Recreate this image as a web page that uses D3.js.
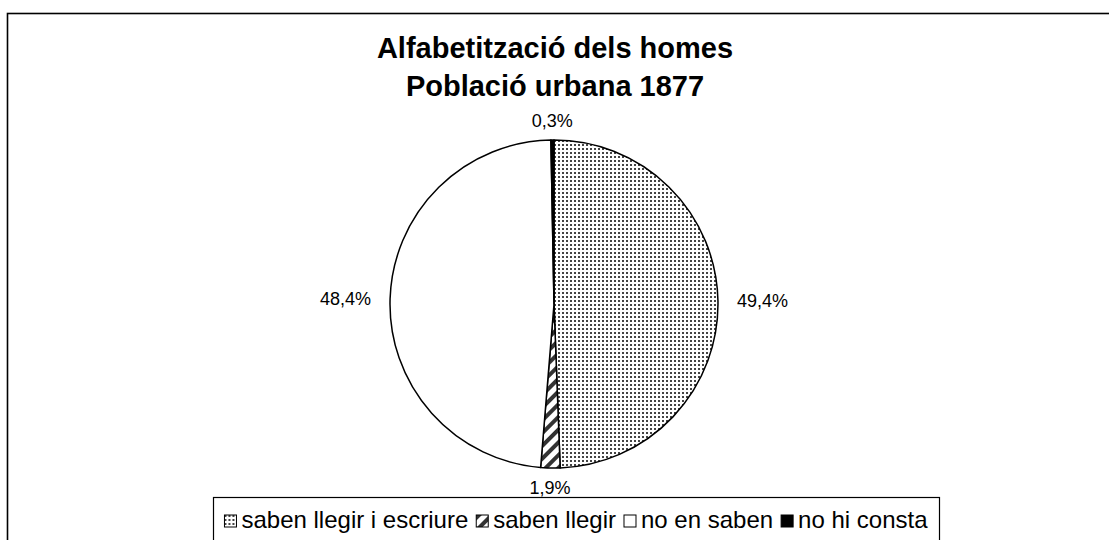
<!DOCTYPE html>
<html>
<head>
<meta charset="utf-8">
<script src="https://cdn.jsdelivr.net/npm/d3@7"></script>
<style>
  body { margin: 0; background: #fff; }
  svg { font-family: "Liberation Sans", Arial, sans-serif; }
</style>
</head>
<body>
<div id="chart"></div>
<script>
// data
var categories = ["saben llegir i escriure", "saben llegir", "no en saben", "no hi consta"];
var values = [49.4, 1.9, 48.4, 0.3];
var labels = ["49,4%", "1,9%", "48,4%", "0,3%"];
var titleLines = ["Alfabetització dels homes", "Població urbana 1877"];

// size
var W = 1109, H = 540;
var cx = 554, cy = 304, r = 164;

var svg = d3.select("#chart").append("svg").attr("width", W).attr("height", H);
var defs = svg.append("defs");

// dotted pattern
var dots = defs.append("pattern").attr("id", "dots")
    .attr("patternUnits", "userSpaceOnUse").attr("width", 4).attr("height", 4);
dots.append("rect").attr("width", 4).attr("height", 4).attr("fill", "#fff");
dots.append("rect").attr("x", 0).attr("y", 0).attr("width", 2).attr("height", 2).attr("fill", "#444");

// hatch pattern
var hatch = defs.append("pattern").attr("id", "hatch")
    .attr("patternUnits", "userSpaceOnUse").attr("width", 9).attr("height", 9)
    .attr("patternTransform", "rotate(45)");
hatch.append("rect").attr("width", 9).attr("height", 9).attr("fill", "#fff");
hatch.append("rect").attr("x", 0).attr("y", 0).attr("width", 4).attr("height", 9).attr("fill", "#333");

var fills = ["url(#dots)", "url(#hatch)", "#fff", "#000"];

// outer frame
svg.append("rect").attr("x", 7.5).attr("y", 13.5).attr("width", W).attr("height", H)
    .attr("fill", "none").attr("stroke", "#000").attr("stroke-width", 1.6);

// title
svg.append("g").selectAll("text").data(titleLines).enter().append("text")
    .attr("x", cx + 1).attr("y", function (d, i) { return 58 + i * 38; })
    .attr("text-anchor", "middle").attr("font-size", 29).attr("font-weight", "bold")
    .text(function (d) { return d; });

// pie
var pie = d3.pie().sort(null).value(function (d) { return d; });
var arcs = pie(values);
var arc = d3.arc().innerRadius(0).outerRadius(r);

var g = svg.append("g").attr("transform", "translate(" + cx + "," + cy + ")");
g.selectAll("path").data(arcs).enter().append("path")
    .attr("d", arc)
    .attr("fill", function (d, i) { return fills[i]; })
    .attr("stroke", "#000").attr("stroke-width", 1.5).attr("stroke-linejoin", "round");

// labels
var off = 19;
g.selectAll(".lbl").data(arcs).enter().append("text").attr("class", "lbl")
    .attr("font-size", 18)
    .each(function (d, i) {
        var a = (d.startAngle + d.endAngle) / 2;
        var s = Math.sin(a), c = Math.cos(a);
        var x = s * (r + off), y = -c * (r + off);
        var anchor = Math.abs(s) < 0.3 ? "middle" : (s > 0 ? "start" : "end");
        if (anchor === "middle") { y = -c * (r + 13); }
        d3.select(this)
            .attr("x", x).attr("y", y)
            .attr("text-anchor", anchor)
            .attr("dy", c > 0.7 ? "0" : (c < -0.7 ? "0.7em" : "0.35em"))
            .text(labels[i]);
    });

// legend
var legend = svg.append("g");
var fs = 24, box = 12, gap = 5, itemGap = 8;
var items = legend.selectAll("g").data(categories).enter().append("g");
items.append("rect").attr("width", box).attr("height", box)
    .attr("fill", function (d, i) { return fills[i]; })
    .attr("stroke", "#000").attr("stroke-width", 1);
items.append("text").attr("font-size", fs).attr("x", box + gap).attr("y", box + 1)
    .text(function (d) { return d; });
var xpos = 0, widths = [];
items.each(function () {
    var w = d3.select(this).select("text").node().getComputedTextLength() + box + gap;
    widths.push(w);
});
var total = d3.sum(widths) + itemGap * (widths.length - 1);
var lx0 = 576 - total / 2;
items.attr("transform", function (d, i) {
    var x = lx0 + xpos;
    xpos += widths[i] + itemGap;
    return "translate(" + x + "," + 515 + ")";
});
legend.insert("rect", ":first-child")
    .attr("x", 213.5).attr("y", 497.5).attr("width", 726).attr("height", 60)
    .attr("fill", "#fff").attr("stroke", "#000").attr("stroke-width", 1.2);
</script>
</body>
</html>
